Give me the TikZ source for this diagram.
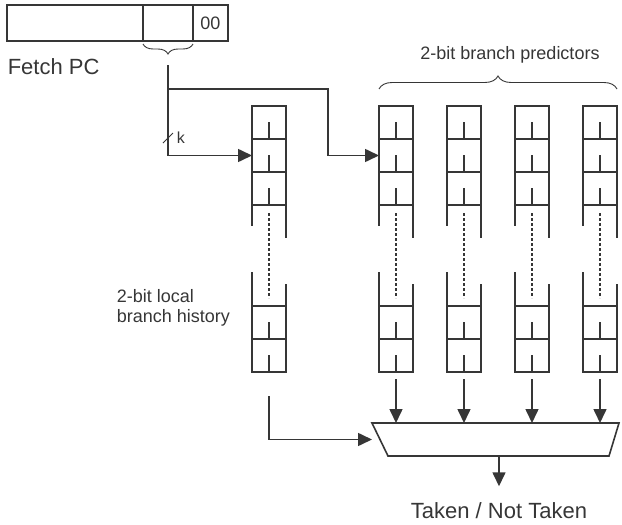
\documentclass[tikz,border=0pt]{standalone}
\usepackage{fontspec}
\setmainfont{Liberation Sans}
\usetikzlibrary{arrows.meta, positioning, decorations.pathreplacing, calc}
\definecolor{ink}{HTML}{363636}

\begin{document}
\begin{tikzpicture}[
  x=1pt, y=-1pt,
  color=ink, line width=1.6pt,
  >={Triangle[length=14pt, width=13pt]},
  big/.style={font=\fontsize{22}{25}\selectfont, inner sep=0},
  lbl/.style={font=\fontsize{18}{20.5}\selectfont, inner sep=0},
  reg/.style={draw, minimum height=36pt, inner sep=0, outer sep=0, font=\fontsize{18}{20}\selectfont},
  cell/.style={draw, minimum width=34pt, minimum height=33pt, inner sep=0, outer sep=0},
  gap/.style={dash pattern=on 3pt off 2pt},
]
\useasboundingbox (0,0) rectangle (622,525);

% Fetch PC register: high bits, index bits, byte offset
\node[reg, minimum width=136pt, anchor=north west] (pchi) at (7,5) {};
\node[reg, minimum width=50pt, right=0pt of pchi] (pcidx) {};
\node[reg, minimum width=35pt, right=0pt of pcidx] (pcoff) {00};
\node[big, anchor=base west] (fetch) at (7,74) {Fetch PC};
\draw[decorate, decoration={brace, mirror, amplitude=10pt, raise=3pt}, line width=0.9pt]
  (pcidx.south west) -- (pcidx.south east);

% --- history table and the four predictor tables ---
\foreach \n/\x in {lh/269, p1/396, p2/464, p3/532, p4/600} {
  \node[cell] (\n-1) at (\x,122.5) {};
  \node[cell, below=0pt of \n-1] (\n-2) {};
  \node[cell, below=0pt of \n-2] (\n-3) {};
  \node[cell] (\n-4) at (\x,322.5) {};
  \node[cell, below=0pt of \n-4] (\n-5) {};
  \foreach \c in {1,...,5}
    \draw (\n-\c.south) -- ++(0,-17);
  % open sides and the elided rows
  \draw (\n-3.south west) -- ++(0,21);
  \draw (\n-3.south east) -- ++(0,33);
  \draw (\n-4.north west) -- ++(0,-34);
  \draw (\n-4.north east) -- ++(0,-22);
  \draw[gap] ([yshift=-8pt]\n-3.south) -- ([yshift=8pt]\n-4.north);
}

\node[lbl, align=left, anchor=west] (histlbl) at (116,308) {2-bit local\\branch history};
\node[lbl, anchor=base] (predlbl) at (510,59) {2-bit branch predictors};
\draw[decorate, decoration={brace, amplitude=13pt}, line width=0.9pt]
  ([yshift=17pt]p1-1.north west) -- ([yshift=17pt]p4-1.north east);

% index bits feed both tables
\coordinate (tap) at ([yshift=-24pt]pcidx.south);
\coordinate (fork) at (tap |- 0,89);
\coordinate (jog) at (328,89);
\draw[->] (tap) |- (lh-2.west);
\draw[->] (fork) -- (jog) |- (p1-2.west);
\draw[line width=1pt] (tap |- 0,138) ++(-5,5) -- ++(10,-10);
\node[font=\fontsize{16}{18}\selectfont, inner sep=0, anchor=base west] (kbits) at (176,143) {k};

% selector
\node[minimum width=247pt, minimum height=33pt, inner sep=0, outer sep=0] (mux) at (495.5,439.5) {};
\draw (mux.north west) -- (mux.north east) -- ([xshift=-10pt]mux.south east)
  -- ([xshift=16pt]mux.south west) -- cycle;
\foreach \n in {p1,p2,p3,p4}
  \draw[->] ([yshift=-7pt]\n-5.south) -- (\n-5.south |- mux.north);
\draw[->] ([yshift=-24pt]lh-5.south) |- (mux.west);

\node[big, anchor=base] (out) at (499,518) {Taken / Not Taken};
\draw[->] (mux.south -| out.north) -- ([yshift=15pt]out.north);
\end{tikzpicture}
\end{document}
